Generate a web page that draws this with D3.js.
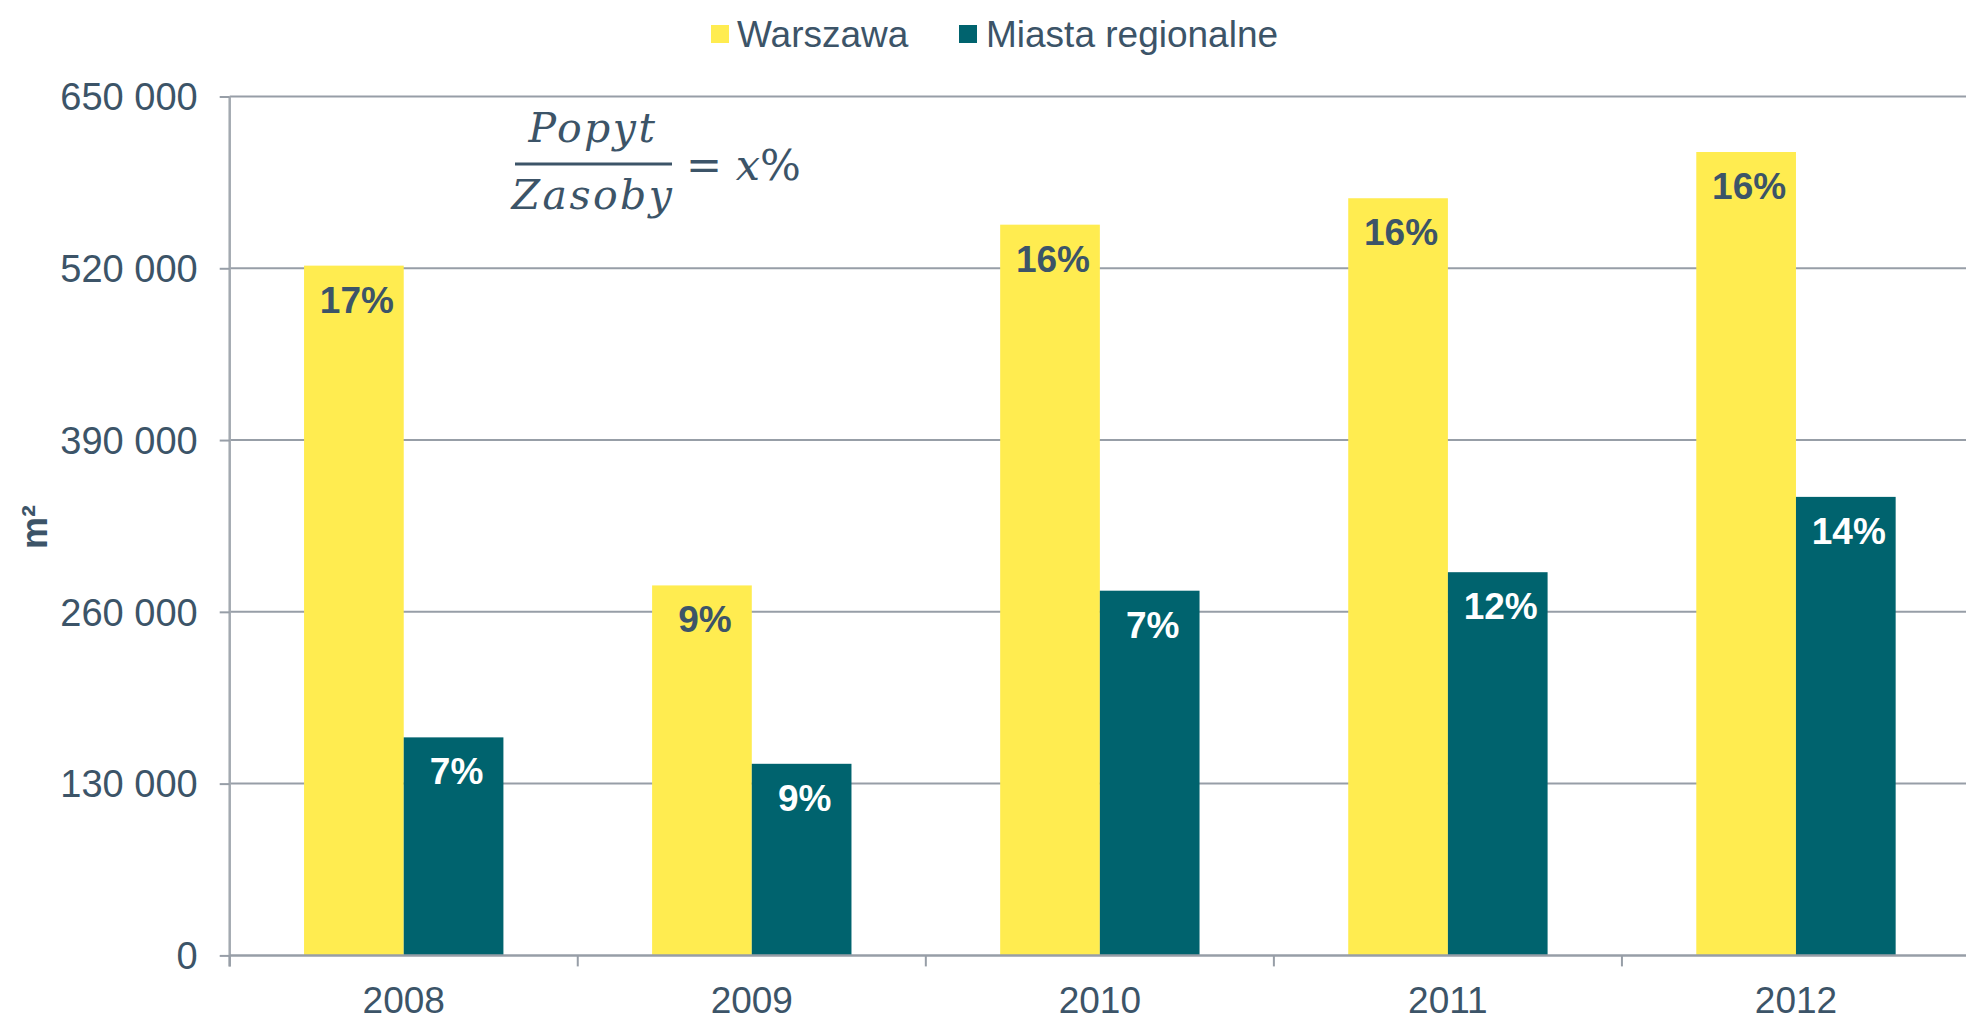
<!DOCTYPE html>
<html>
<head>
<meta charset="utf-8">
<script src="https://cdn.jsdelivr.net/npm/d3@7"></script>
<style>
  html, body { margin: 0; padding: 0; background: #ffffff; }
  svg { display: block; }
</style>
</head>
<body>
<svg id="chart" width="1966" height="1024"></svg>
<script>
// ---- data ----
const years = ["2008", "2009", "2010", "2011", "2012"];
const seriesNames = ["Warszawa", "Miasta regionalne"];
const warszawa = [522000, 280000, 553000, 573000, 608000];
const miasta = [165000, 145000, 276000, 290000, 347000];
const warszawaLabels = ["17%", "9%", "16%", "16%", "16%"];
const miastaLabels = ["7%", "9%", "7%", "12%", "14%"];
const yTicks = [0, 130000, 260000, 390000, 520000, 650000];
const yAxisTitle = "m²";

(function () {
// ---- styling ----
const textColor = "#3c5468";
const gridColor = "#979ea7";
const colors = { "Warszawa": "#ffec50", "Miasta regionalne": "#00636e" };
const labelColors = { "Warszawa": "#3c5468", "Miasta regionalne": "#ffffff" };
const font = "'Liberation Sans', Arial, sans-serif";

const svg = d3.select("#chart");
const mLeft = 229.7, mRight = 1970, mTop = 96.5, mBottom = 955.4;

const pInner = 0.4272;
const x = d3.scaleBand().domain(years).range([mLeft, mRight]).paddingInner(pInner).paddingOuter(pInner / 2);
const xs = d3.scaleBand().domain(seriesNames).range([0, x.bandwidth()]);
const y = d3.scaleLinear().domain([0, 650000]).range([mBottom, mTop]);

const fmt = d3.formatLocale({ decimal: ",", thousands: " ", grouping: [3], currency: ["", ""] }).format(",d");

// gridlines
svg.append("g").selectAll("line").data(yTicks.filter(d => d > 0)).join("line")
  .attr("x1", mLeft).attr("x2", 1966)
  .attr("y1", d => y(d)).attr("y2", d => y(d))
  .attr("stroke", gridColor).attr("stroke-width", 2);

// bars
const rows = years.map((yr, i) => ({
  year: yr,
  vals: [
    { s: "Warszawa", v: warszawa[i], lab: warszawaLabels[i] },
    { s: "Miasta regionalne", v: miasta[i], lab: miastaLabels[i] }
  ]
}));

const groups = svg.append("g").selectAll("g").data(rows).join("g")
  .attr("transform", d => `translate(${x(d.year)},0)`);

groups.selectAll("rect").data(d => d.vals).join("rect")
  .attr("x", d => xs(d.s))
  .attr("width", xs.bandwidth())
  .attr("y", d => y(d.v))
  .attr("height", d => y(0) - y(d.v))
  .attr("fill", d => colors[d.s]);

groups.selectAll("text").data(d => d.vals).join("text")
  .attr("x", d => xs(d.s) + xs.bandwidth() / 2 + 3)
  .attr("y", d => y(d.v) + 47)
  .attr("text-anchor", "middle")
  .attr("font-family", font)
  .attr("font-weight", "bold")
  .attr("font-size", 37)
  .attr("fill", d => labelColors[d.s])
  .text(d => d.lab);

// y axis
const yAxis = d3.axisLeft(y).tickValues(yTicks).tickFormat(d => fmt(d)).tickSize(10).tickPadding(22);
const gy = svg.append("g").attr("transform", `translate(${mLeft},0)`).call(yAxis);
gy.select(".domain").attr("stroke", "#a3a9b0").attr("stroke-width", 2.5)
  .attr("d", `M0,${mTop}V${mBottom + 11}`);
gy.selectAll(".tick line").attr("stroke", gridColor).attr("stroke-width", 2);
gy.selectAll(".tick text").attr("font-family", font).attr("font-size", 38).attr("fill", textColor).attr("dy", "0.35em");

// x axis (ticks at category boundaries)
const step = x.step();
const boundaries = years.map(yr => x(yr) - step * pInner / 2);
const gx = svg.append("g").attr("transform", `translate(0,${mBottom})`);
gx.append("line").attr("x1", mLeft).attr("x2", 1966).attr("y1", 0).attr("y2", 0)
  .attr("stroke", gridColor).attr("stroke-width", 2.5);
gx.selectAll("line.tk").data(boundaries).join("line").attr("class", "tk")
  .attr("x1", d => d).attr("x2", d => d).attr("y1", 0).attr("y2", 11)
  .attr("stroke", gridColor).attr("stroke-width", 2);
gx.selectAll("text").data(years).join("text")
  .attr("x", d => x(d) + x.bandwidth() / 2)
  .attr("y", 58)
  .attr("text-anchor", "middle")
  .attr("font-family", font).attr("font-size", 37).attr("fill", textColor)
  .text(d => d);

// y axis title
svg.append("text")
  .attr("transform", `translate(47,527) rotate(-90)`)
  .attr("text-anchor", "middle")
  .attr("font-family", font).attr("font-weight", "bold").attr("font-size", 36)
  .attr("fill", textColor)
  .text(yAxisTitle);

// legend
const legendItems = [
  { s: "Warszawa", sx: 711, tx: 737 },
  { s: "Miasta regionalne", sx: 959, tx: 986 }
];
const lg = svg.append("g");
lg.selectAll("rect").data(legendItems).join("rect")
  .attr("x", d => d.sx).attr("y", 25).attr("width", 18).attr("height", 18)
  .attr("fill", d => colors[d.s]);
lg.selectAll("text").data(legendItems).join("text")
  .attr("x", d => d.tx).attr("y", 47)
  .attr("font-family", font).attr("font-size", 37).attr("fill", textColor)
  .text(d => d.s);

// formula
const ff = "'DejaVu Serif', serif";
const fg = svg.append("g").attr("fill", textColor).attr("font-family", ff).attr("font-size", 41);
fg.append("text").attr("x", 593).attr("y", 142).attr("text-anchor", "middle")
  .attr("font-style", "italic").attr("letter-spacing", 2.5).text("Popyt");
fg.append("line").attr("x1", 515).attr("x2", 672).attr("y1", 164).attr("y2", 164)
  .attr("stroke", textColor).attr("stroke-width", 3);
fg.append("text").attr("x", 593).attr("y", 209).attr("text-anchor", "middle")
  .attr("font-style", "italic").attr("letter-spacing", 2.5).text("Zasoby");
const eq = fg.append("text").attr("x", 686).attr("y", 180).attr("font-size", 43);
eq.append("tspan").text("= ");
eq.append("tspan").attr("font-style", "italic").text("x");
eq.append("tspan").text("%");
})();
</script>
</body>
</html>
